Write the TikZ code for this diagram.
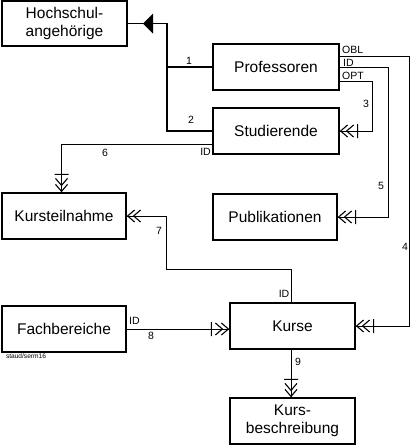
\documentclass[tikz,border=0pt]{standalone}
\usepackage{fontspec}
\setmainfont{Liberation Sans}
\begin{document}
\begin{tikzpicture}[x=1pt,y=-1pt,
  ent/.style={draw,line width=1.2pt,minimum width=125pt,minimum height=45pt,inner sep=0pt,
    align=center,font=\fontsize{15.5}{18}\selectfont},
  lbl/.style={inner sep=0pt,font=\fontsize{10.5}{12}\selectfont},
  thick line/.style={line width=1.8pt},
  thin line/.style={line width=1pt},
  crowbar/.pic={\draw[line width=1.1pt] (-8,6) -- (-1,0) -- (-8,-6) (-14,6) -- (-7,0) -- (-14,-6) (-18,7) -- (-18,-7);},
  crow/.pic={\draw[line width=1.1pt] (-8,6) -- (-1,0) -- (-8,-6) (-14,6) -- (-7,0) -- (-14,-6);}
]
\useasboundingbox (0,0) rectangle (413,445);

\node[ent,minimum width=125pt] (hoch) at (64.5,23.5) {Hochschul-\\angehörige};
\node[ent,minimum width=126pt,minimum height=46pt] (prof) at (276,67) {Professoren};
\node[ent,minimum width=126pt,minimum height=46pt] (stud) at (276,131) {Studierende};
\node[ent,minimum width=124pt,minimum height=46pt] (kt) at (64,216) {Kursteilnahme};
\node[ent,minimum width=124pt,minimum height=46pt] (pub) at (275,217) {Publikationen};
\node[ent,minimum width=125pt,minimum height=46pt] (kurse) at (292.5,326) {Kurse};
\node[ent,minimum width=124pt,minimum height=46pt] (fb) at (64,329) {Fachbereiche};
\node[ent,minimum width=125pt,minimum height=46pt] (kb) at (292.5,421) {Kurs-\\beschreibung};

% generalisation (thick)
\coordinate (jt) at (167,23.5);
\draw[thick line] (hoch.east) -- (jt) |- (stud.west);
\draw[thick line] (prof.west) -- (prof.west -| jt);
\fill (143,23.5) -- (153,13.5) -- (153,33.5) -- cycle;

% thin connectors
\coordinate (c3) at (372,0);
\coordinate (c4) at (409,0);
\coordinate (c5) at (388,0);
\coordinate (c7) at (166,269);
\draw[thin line] ([yshift=11pt]prof.east) -| (c4 |- kurse.east) -- (kurse.east);
\draw[thin line] (prof.east) -| (c5 |- pub.east) -- (pub.east);
\draw[thin line] ([yshift=-14pt]prof.east) -| (c3 |- stud.east) -- (stud.east);
\draw[thin line] ([yshift=-13pt]stud.west) -| ([xshift=-2.5pt]kt.north);
\draw[thin line] ([xshift=-1.5pt]kurse.north) |- (c7) |- (kt.east);
\draw[thin line] (fb.east) -- (fb.east -| kurse.west);
\draw[thin line] ([xshift=-1.5pt]kurse.south) -- ([xshift=-1.5pt]kb.north);

% crow's feet
\pic[rotate=180] at (stud.east) {crowbar};
\pic[rotate=180] at (pub.east) {crowbar};
\pic[rotate=180] at (kurse.east) {crowbar};
\pic[rotate=180] at (kt.east) {crow};
\pic at (fb.east -| kurse.west) {crowbar};
\pic[rotate=-90] at ([xshift=-2.5pt]kt.north) {crowbar};
\pic[rotate=-90] at ([xshift=-1.5pt]kb.north) {crowbar};

% labels
\node[lbl] (l1) at (189,61) {1};
\node[lbl] (l2) at (191,120) {2};
\node[lbl] (l3) at (366,104) {3};
\node[lbl] (l4) at (405,247) {4};
\node[lbl] (l5) at (381,186) {5};
\node[lbl] (l6) at (105,153) {6};
\node[lbl] (l7) at (159,231) {7};
\node[lbl] (l8) at (151,336) {8};
\node[lbl] (l9) at (298,362) {9};
\node[lbl,anchor=west] (lobl) at (342,50) {OBL};
\node[lbl,anchor=west] (lid1) at (343,63) {ID};
\node[lbl,anchor=west] (lopt) at (342,76) {OPT};
\node[lbl,anchor=east] (lid2) at (211,152) {ID};
\node[lbl] (lid3) at (284,294) {ID};
\node[lbl,anchor=west] (lid4) at (129,321) {ID};
\node[inner sep=0pt,font=\fontsize{6.6}{8}\selectfont] (staud) at (26,356) {staud/serm16};
\end{tikzpicture}
\end{document}
